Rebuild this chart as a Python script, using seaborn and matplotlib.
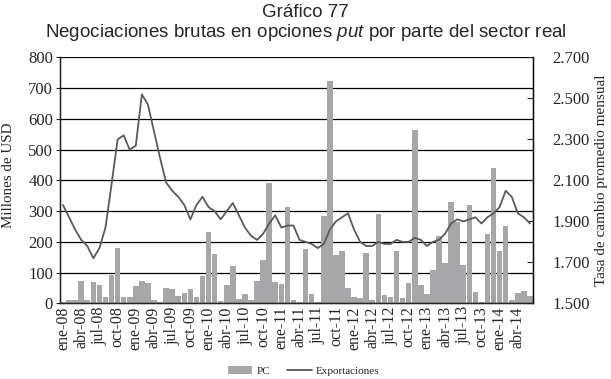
import numpy as np
import pandas as pd
import matplotlib
matplotlib.use("Agg")
import matplotlib.pyplot as plt
from matplotlib.lines import Line2D
from matplotlib.patches import Patch
import seaborn as sns


# ene-08 ... jun-14
meses = ['ene', 'feb', 'mar', 'abr', 'may', 'jun', 'jul', 'ago', 'sep', 'oct', 'nov', 'dic']
months = [f"{m}-{y:02d}" for y in range(8, 15) for m in meses][:78]

# negociaciones PC (millones de USD)
pc = [5, 10, 10, 73, 10, 68, 61, 22, 92, 180, 22, 22,
      56, 73, 67, 11, 5, 51, 48, 25, 35, 48, 22, 89,
      232, 160, 8, 61, 122, 14, 30, 11, 74, 141, 392, 69,
      63, 313, 12, 6, 177, 30, 3, 284, 723, 157, 170, 51,
      22, 18, 164, 11, 291, 27, 21, 170, 17, 66, 564, 60,
      30, 108, 219, 130, 330, 265, 126, 320, 37, 5, 226, 440,
      170, 252, 11, 35, 40, 24]

# tasa de cambio promedio mensual
tasa = [1.98, 1.92, 1.86, 1.81, 1.78, 1.72, 1.77, 1.87, 2.08, 2.30, 2.32, 2.25,
        2.27, 2.52, 2.47, 2.34, 2.21, 2.09, 2.05, 2.02, 1.98, 1.91, 1.98, 2.02,
        1.97, 1.95, 1.91, 1.95, 1.99, 1.93, 1.87, 1.83, 1.81, 1.84, 1.89, 1.93,
        1.87, 1.88, 1.88, 1.81, 1.80, 1.79, 1.77, 1.79, 1.86, 1.90, 1.92, 1.94,
        1.86, 1.80, 1.78, 1.78, 1.80, 1.79, 1.79, 1.81, 1.80, 1.80, 1.82, 1.81,
        1.78, 1.80, 1.81, 1.84, 1.89, 1.91, 1.90, 1.91, 1.92, 1.89, 1.92, 1.94,
        1.97, 2.05, 2.02, 1.94, 1.92, 1.89]

left_ticks = [0, 100, 200, 300, 400, 500, 600, 700, 800]
right_ticks = [1.5, 1.7, 1.9, 2.1, 2.3, 2.5, 2.7]
right_labels = ['1.500', '1.700', '1.900', '2.100', '2.300', '2.500', '2.700']

df = pd.DataFrame({'mes': months, 'pc': pc, 'tasa': tasa, 'pos': np.arange(len(months))})

sns.set_style('white')
plt.rcParams['font.family'] = ['Liberation Serif', 'DejaVu Serif']
plt.rcParams['mathtext.fontset'] = 'custom'
plt.rcParams['mathtext.rm'] = 'Liberation Sans'
plt.rcParams['mathtext.it'] = 'Liberation Sans:italic'

bar_color = '#a7a7a9'
line_color = '#5a5a5a'

fig = plt.figure(figsize=(6.11, 3.79), dpi=100)
ax = fig.add_axes([0.0982, 0.1995, 0.7741, 0.6488])

sns.barplot(data=df, x='mes', y='pc', color=bar_color, width=0.92,
            saturation=1, edgecolor='none', ax=ax)
ax.set_axisbelow(True)
ax.yaxis.grid(True, color='black', linewidth=0.9)
ax.xaxis.grid(False)
ax.set_ylim(0, 800)
ax.set_xlim(-0.5, len(months) - 0.5)
ax.set_yticks(left_ticks)
ax.tick_params(axis='y', labelsize=12, length=3, pad=2)

# etiquetas cada 3 meses, marcas entre categorias
ax.set_xticks(np.arange(0, len(months), 3))
ax.set_xticklabels(months[::3], rotation=90, fontsize=11.5)
ax.tick_params(axis='x', length=0, pad=2)
ax.set_xticks(np.arange(-0.5, len(months), 3), minor=True)
ax.tick_params(axis='x', which='minor', length=4, width=0.8, color='black', direction='out')
ax.set_xlabel('')
ax.set_ylabel('Millones de USD', fontsize=10.8)
ax.yaxis.set_label_coords(-0.095, 0.52)

for s in ['left', 'bottom', 'right']:
    ax.spines[s].set_color('black')
    ax.spines[s].set_linewidth(1)
ax.spines['top'].set_visible(False)

ax2 = ax.twinx()
sns.lineplot(data=df, x='pos', y='tasa', color=line_color, linewidth=1.3, ax=ax2)
ax2.set_ylim(1.5, 2.7)
ax2.set_yticks(right_ticks)
ax2.set_yticklabels(right_labels)
ax2.tick_params(axis='y', labelsize=12, direction='in', length=4, pad=14)
ax2.set_ylabel('Tasa de cambio promedio mensual', fontsize=11)
ax2.yaxis.set_label_coords(1.132, 0.5)
ax2.set_xlim(-0.5, len(months) - 0.5)
ax2.set_xlabel('')
ax2.spines['top'].set_visible(False)
ax2.spines['right'].set_color('black')

fig.text(0.5, 0.968, 'Gráfico 77', ha='center', va='center',
         fontsize=13.5, family='Liberation Sans')
fig.text(0.5, 0.913, 'Negociaciones brutas en opciones $\\mathit{put}$ por parte del sector real',
         ha='center', va='center', fontsize=13.5, family='Liberation Sans')

handles = [Patch(facecolor=bar_color, edgecolor='none'),
           Line2D([0], [0], color=line_color, linewidth=1.3)]
fig.legend(handles, ['PC', 'Exportaciones'], loc='center', bbox_to_anchor=(0.497, 0.022),
           ncol=2, frameon=False, fontsize=8, handlelength=2.2, columnspacing=1.5,
           handletextpad=0.4)

plt.savefig('out.png', dpi=100)
